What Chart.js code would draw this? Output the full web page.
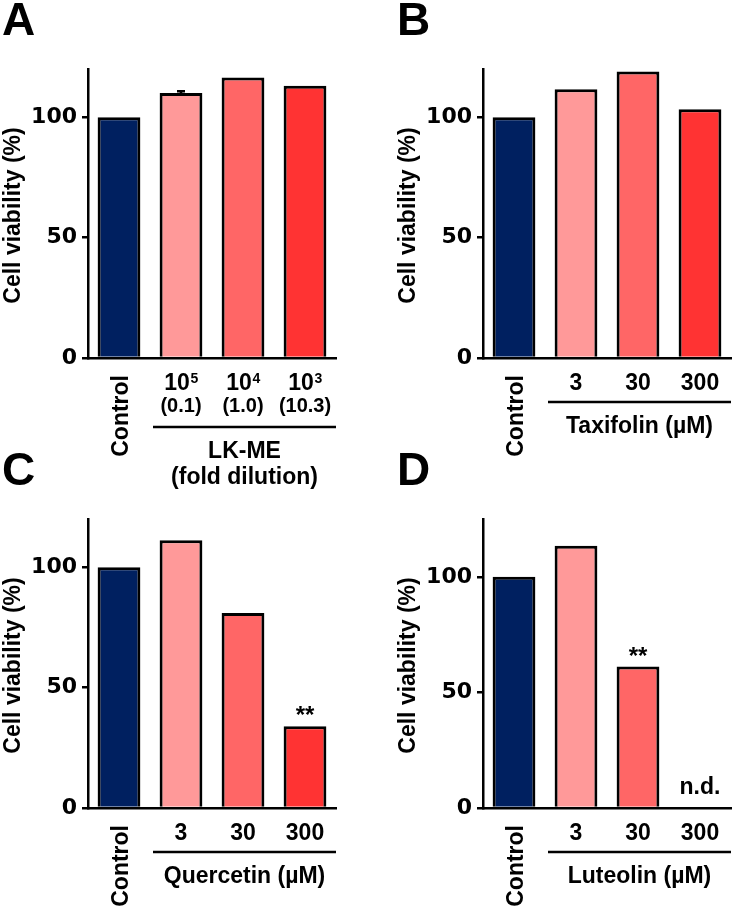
<!DOCTYPE html>
<html>
<head>
<meta charset="utf-8">
<script src="https://cdn.jsdelivr.net/npm/chart.js@4.4.1/dist/chart.umd.min.js"></script>
<style>
  html, body { margin: 0; padding: 0; background: #fff; overflow: hidden; }
  canvas { position: absolute; }
</style>
</head>
<body>
<canvas id="panelA" width="338" height="500" style="left:0;top:0"></canvas>
<canvas id="panelB" width="338" height="500" style="left:395px;top:0"></canvas>
<canvas id="panelC" width="338" height="460" style="left:0;top:450px"></canvas>
<canvas id="panelD" width="338" height="460" style="left:395px;top:450px"></canvas>
<script>
// panel A: LK-ME dilutions
const categoriesA = ['Control', '10', '10', '10'];
const exponentsA = ['', '5', '4', '3'];
const amountsA = ['', '(0.1)', '(1.0)', '(10.3)'];
const viabilityA = [100, 110, 116.5, 113];
const errorA = [0, 0.8, 0, 0];

// panels B-D: flavonoid doses (uM)
const doses = ['Control', '3', '30', '300'];
const viabilityB = [100, 111.6, 119, 103.3];
const viabilityC = [100, 111.2, 81, 33.9];
const viabilityD = [100, 113.4, 61.2, null];
const marksC = ['', '', '', '**'];
const marksD = ['', '', '**', 'n.d.'];

const yTicks = [0, 50, 100];
const barColors = ['#002060', '#FF9999', '#FF6666', '#FF3333'];

const FONT = '"Liberation Sans", Arial, sans-serif';

const panelText = {
    id: 'panelText',
    afterDraw(chart, args, opts) {
        const ctx = chart.ctx;
        const area = chart.chartArea;
        const x = chart.scales.x;
        const y = chart.scales.y;
        const bars = chart.getDatasetMeta(0).data;
        const values = chart.data.datasets[0].data;

        ctx.save();
        ctx.fillStyle = '#000';
        ctx.strokeStyle = '#000';
        ctx.textBaseline = 'alphabetic';

        // panel letter
        ctx.font = 'bold 46px ' + FONT;
        ctx.textAlign = 'left';
        ctx.fillText(opts.letter, 2, 35);

        // y axis title
        ctx.save();
        ctx.translate(19.5, (area.top + area.bottom) / 2 + 2);
        ctx.rotate(-Math.PI / 2);
        ctx.textAlign = 'center';
        ctx.font = 'bold 23px ' + FONT;
        ctx.fillText('Cell viability (%)', 0, 0);
        ctx.restore();

        // category labels
        chart.data.labels.forEach((lab, i) => {
            const cx = x.getPixelForValue(i);
            ctx.font = 'bold 23px ' + FONT;
            if (i === 0) {
                ctx.save();
                ctx.translate(cx + 8.5, area.bottom + 17);
                ctx.rotate(-Math.PI / 2);
                ctx.textAlign = 'right';
                ctx.fillText(lab, 0, 0);
                ctx.restore();
            } else if (opts.exponents) {
                const wBase = ctx.measureText(lab).width;
                ctx.font = 'bold 14px ' + FONT;
                const wExp = ctx.measureText(opts.exponents[i]).width;
                const start = cx - (wBase + wExp) / 2;
                ctx.textAlign = 'left';
                ctx.font = 'bold 23px ' + FONT;
                ctx.fillText(lab, start, area.bottom + 32);
                ctx.font = 'bold 14px ' + FONT;
                ctx.fillText(opts.exponents[i], start + wBase + 0.5, area.bottom + 25);
                ctx.font = 'bold 20px ' + FONT;
                ctx.textAlign = 'center';
                ctx.fillText(opts.amounts[i], cx, area.bottom + 54);
            } else {
                ctx.textAlign = 'center';
                ctx.fillText(lab, cx, area.bottom + 32);
            }
        });

        // group underline and title
        const lineY = area.bottom + opts.lineOffset;
        const x0 = x.getPixelForValue(0.5) + 3;
        ctx.lineWidth = 2.5;
        ctx.beginPath();
        ctx.moveTo(x0, lineY);
        ctx.lineTo(area.right, lineY);
        ctx.stroke();
        ctx.font = 'bold 23px ' + FONT;
        ctx.textAlign = 'center';
        opts.group.forEach((txt, k) => {
            ctx.fillText(txt, (x0 + area.right) / 2, lineY + 31 + k * 26);
        });

        // error caps
        if (opts.errors) {
            opts.errors.forEach((e, i) => {
                if (!e) return;
                const cx = bars[i].x;
                const top = y.getPixelForValue(values[i] + e);
                ctx.beginPath();
                ctx.moveTo(cx, bars[i].y);
                ctx.lineTo(cx, top);
                ctx.moveTo(cx - 4, top);
                ctx.lineTo(cx + 4, top);
                ctx.stroke();
            });
        }

        // significance / n.d. marks
        if (opts.marks) {
            opts.marks.forEach((m, i) => {
                if (!m) return;
                const cx = x.getPixelForValue(i);
                if (values[i] === null) {
                    ctx.font = 'bold 23px ' + FONT;
                    ctx.fillText(m, cx, y.getPixelForValue(0) - 14);
                } else {
                    ctx.font = 'bold 24px ' + FONT;
                    ctx.fillText(m, cx, bars[i].y - 3);
                }
            });
        }
        ctx.restore();
    }
};

function makePanel(id, labels, values, yMax, text) {
    const canvas = document.getElementById(id);
    const h = canvas.height;
    return new Chart(canvas.getContext('2d'), {
        type: 'bar',
        data: {
            labels: labels,
            datasets: [{
                data: values,
                backgroundColor: barColors,
                borderColor: '#000',
                borderWidth: 3,
                borderSkipped: 'bottom',
                categoryPercentage: 1,
                barPercentage: 0.69
            }]
        },
        options: {
            responsive: false,
            animation: false,
            layout: { padding: { top: 69, right: 2, left: 0, bottom: 0 } },
            plugins: {
                legend: { display: false },
                tooltip: { enabled: false },
                panelText: text
            },
            scales: {
                x: {
                    grid: { display: false },
                    border: { color: '#000', width: 2.5 },
                    ticks: { display: false },
                    afterFit: s => { s.height = h - 358; }
                },
                y: {
                    min: 0,
                    max: yMax,
                    afterBuildTicks: s => { s.ticks = yTicks.map(v => ({ value: v })); },
                    grid: { drawOnChartArea: false, drawTicks: true, tickLength: 6, color: '#000', lineWidth: 2.5 },
                    border: { color: '#000', width: 2.5 },
                    ticks: {
                        color: '#000',
                        padding: 5,
                        font: { family: '"DejaVu Sans"', weight: 'bold', size: 22 }
                    },
                    afterFit: s => { s.width = 88; }
                }
            }
        },
        plugins: [panelText]
    });
}

makePanel('panelA', categoriesA, viabilityA, 120, {
    letter: 'A', exponents: exponentsA, amounts: amountsA, errors: errorA,
    lineOffset: 69, group: ['LK-ME', '(fold dilution)']
});
makePanel('panelB', doses, viabilityB, 120, {
    letter: 'B', lineOffset: 44, group: ['Taxifolin (\u00b5M)']
});
makePanel('panelC', doses, viabilityC, 120, {
    letter: 'C', lineOffset: 44, group: ['Quercetin (\u00b5M)'], marks: marksC
});
makePanel('panelD', doses, viabilityD, 125, {
    letter: 'D', lineOffset: 44, group: ['Luteolin (\u00b5M)'], marks: marksD
});
</script>
</body>
</html>
